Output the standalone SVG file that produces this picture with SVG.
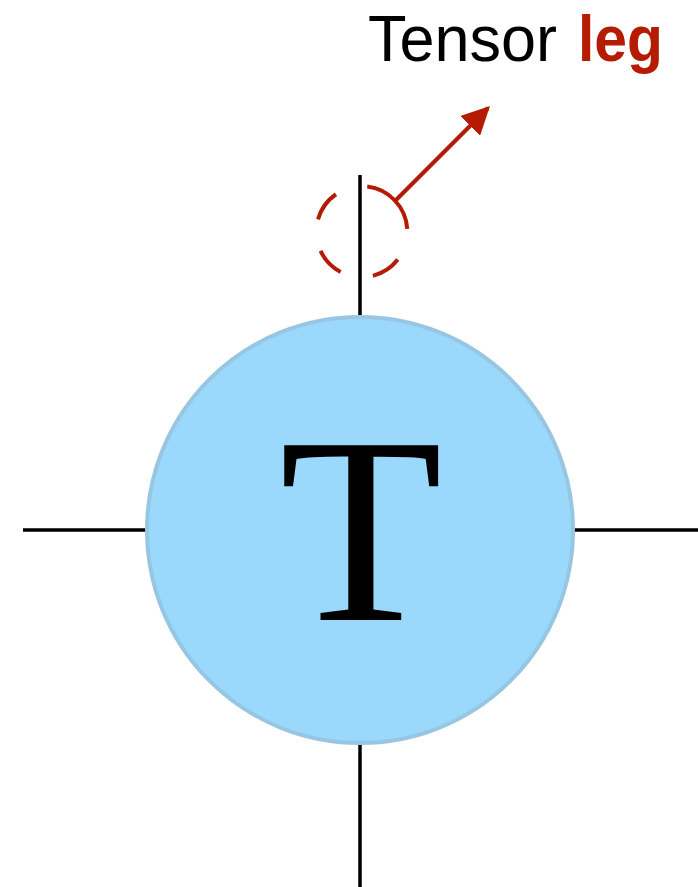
<svg xmlns="http://www.w3.org/2000/svg" width="698" height="887" viewBox="0 0 698 887">
<style>
.leg{stroke:#000;stroke-width:3.5;fill:none}
.red{stroke:#B41B02;stroke-width:4;fill:none}
.lbl{font-family:"Liberation Sans",Arial,sans-serif;font-size:64px}
</style>
<defs>
<marker id="ah" viewBox="0 0 10 10" refX="9" refY="5" markerWidth="7" markerHeight="7" markerUnits="strokeWidth" orient="auto">
<path d="M0,0 L10,5 L0,10 z" fill="#B41B02"/>
</marker>
</defs>
<g id="connectors">
<line class="leg" x1="23" y1="530" x2="147" y2="530"/>
<line class="leg" x1="573" y1="530" x2="698" y2="530"/>
<line class="leg" x1="360" y1="175" x2="360" y2="322"/>
<line class="leg" x1="360" y1="738" x2="360" y2="887"/>
<line class="red" x1="394" y1="202" x2="488" y2="108" marker-end="url(#ah)"/>
</g>
<g id="tensor">
<circle cx="360" cy="530" r="213" fill="#9AD9FC" stroke="#97C6E3" stroke-width="4"/>
<text x="361" y="620" text-anchor="middle" font-family="Liberation Serif,'Times New Roman',serif" font-size="267" fill="#000">T</text>
</g>
<g id="leg-highlight">
<circle cx="361.8" cy="231.7" r="45.5" class="red" stroke-dasharray="0 30 30.1 33.3 29.5 32.3 31.4 33 63 3.4"/>
</g>
<g id="label">
<text class="lbl" y="61"><tspan x="368" fill="#000" textLength="189" lengthAdjust="spacingAndGlyphs">Tensor</tspan><tspan x="578" fill="#B41B02" font-weight="bold" textLength="85" lengthAdjust="spacingAndGlyphs">leg</tspan></text>
</g>
</svg>
